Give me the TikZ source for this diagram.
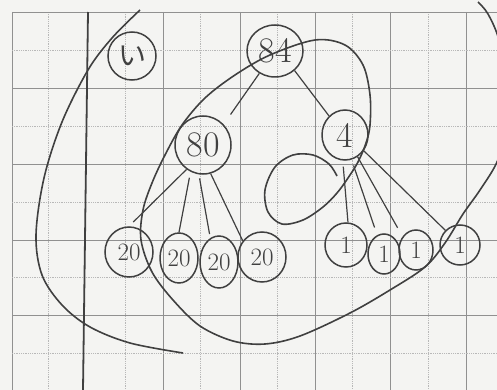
\documentclass[tikz,border=0pt]{standalone}
\usepackage{fontspec}
\newfontfamily\jpfont{Noto Sans CJK JP}
\usetikzlibrary{shapes.geometric}
\definecolor{pencil}{HTML}{404040}
\definecolor{gridln}{HTML}{909090}
\definecolor{gridlt}{HTML}{B8B8B8}
\definecolor{paper}{HTML}{F4F4F2}

\begin{document}
\begin{tikzpicture}[x=1pt, y=-1pt,
  knot/.style={ellipse, draw=pencil, line width=1.5pt, inner sep=0pt, text=pencil},
  bignum/.style={knot, font=\fontsize{36}{36}\selectfont},
  smallnum/.style={knot, font=\fontsize{25}{25}\selectfont},
  branch/.style={draw=pencil, line width=1.2pt},
  hull/.style={draw=pencil, line width=1.6pt, smooth, tension=0.55},
  solidgrid/.style={gridln, line width=0.8pt},
  dashgrid/.style={gridlt, line width=0.8pt, densely dotted},
]
\useasboundingbox (0,0) rectangle (497,390);

% Background
\fill[paper] (0,0) rectangle (497,390);

% Grid paper
\foreach \x in {12,163,240,315,390,466}
  \draw[solidgrid] (\x,12) -- (\x,390);
\foreach \x in {48,125,200,277,352,428}
  \draw[dashgrid] (\x,12) -- (\x,390);
\foreach \y in {12,88,164,240,315}
  \draw[solidgrid] (12,\y) -- (497,\y);
\foreach \y in {50,126,202,277,353}
  \draw[dashgrid] (12,\y) -- (497,\y);
\draw[pencil, line width=1.8pt] (88,12) -- (83,390);

% Enclosing curves
\begin{scope}
\clip (0,0) rectangle (497,390);
\draw[hull] plot coordinates {(140,10) (112,38) (88,70) (62,122) (44,178)
  (36,235) (42,275) (62,305) (90,327) (130,343) (183,353)};
\draw[hull] plot coordinates {(478,2) (488,14) (499,40) (507,85) (506,130)
  (497,162) (480,190) (463,214) (445,243) (425,267) (390,290) (350,313)
  (300,336) (265,344) (233,341) (200,326) (173,300) (152,272) (141,240)
  (143,210) (152,183) (165,155) (182,125) (205,98) (235,75) (270,55)
  (315,40) (345,45) (363,65) (370,95) (370,125) (366,143) (358,162)
  (348,178) (337,193) (323,207) (303,220) (282,224) (268,212) (265,190)
  (275,167) (293,155) (313,155) (329,164) (337,176)};
\end{scope}

% Tree
\node[knot, minimum width=48pt, minimum height=48pt,
  font=\jpfont\fontsize{28}{28}\selectfont] (hira) at (132,56) {い};
\node[bignum, minimum width=56pt, minimum height=52pt] (n84) at (275,51) {84};
\node[bignum, minimum width=56pt, minimum height=58pt] (n80) at (203,145) {80};
\node[bignum, minimum width=46pt, minimum height=50pt] (n4) at (345,135) {4};

\node[smallnum, minimum width=48pt, minimum height=50pt] (a1) at (129,252) {20};
\node[smallnum, minimum width=38pt, minimum height=50pt] (a2) at (179,258) {20};
\node[smallnum, minimum width=38pt, minimum height=52pt] (a3) at (219,262) {20};
\node[smallnum, minimum width=48pt, minimum height=50pt] (a4) at (262,257) {20};

\node[smallnum, minimum width=42pt, minimum height=44pt] (b1) at (346,245) {1};
\node[smallnum, minimum width=32pt, minimum height=40pt] (b2) at (384,254) {1};
\node[smallnum, minimum width=34pt, minimum height=40pt] (b3) at (416,250) {1};
\node[smallnum, minimum width=40pt, minimum height=40pt] (b4) at (460,245) {1};

\draw[branch, shorten >=12pt] (n84.235) -- (n80.45);
\draw[branch] (n84.315) -- (n4.130);

\draw[branch, shorten >=6pt] (n80.236) -- (a1.north);
\draw[branch, shorten <=6pt] (n80.245) -- (a2.north);
\draw[branch, shorten <=4pt, shorten >=4pt] (n80.262) -- (a3.110);
\draw[branch] (n80.285) -- (a4.140);

\draw[branch, shorten <=6pt] (n4.265) -- (b1.85);
\draw[branch, shorten <=6pt, shorten >=8pt] (n4.285) -- (b2.110);
\draw[branch, shorten >=10pt] (n4.300) -- (b3.135);
\draw[branch] (n4.320) -- (b4.135);
\end{tikzpicture}
\end{document}
